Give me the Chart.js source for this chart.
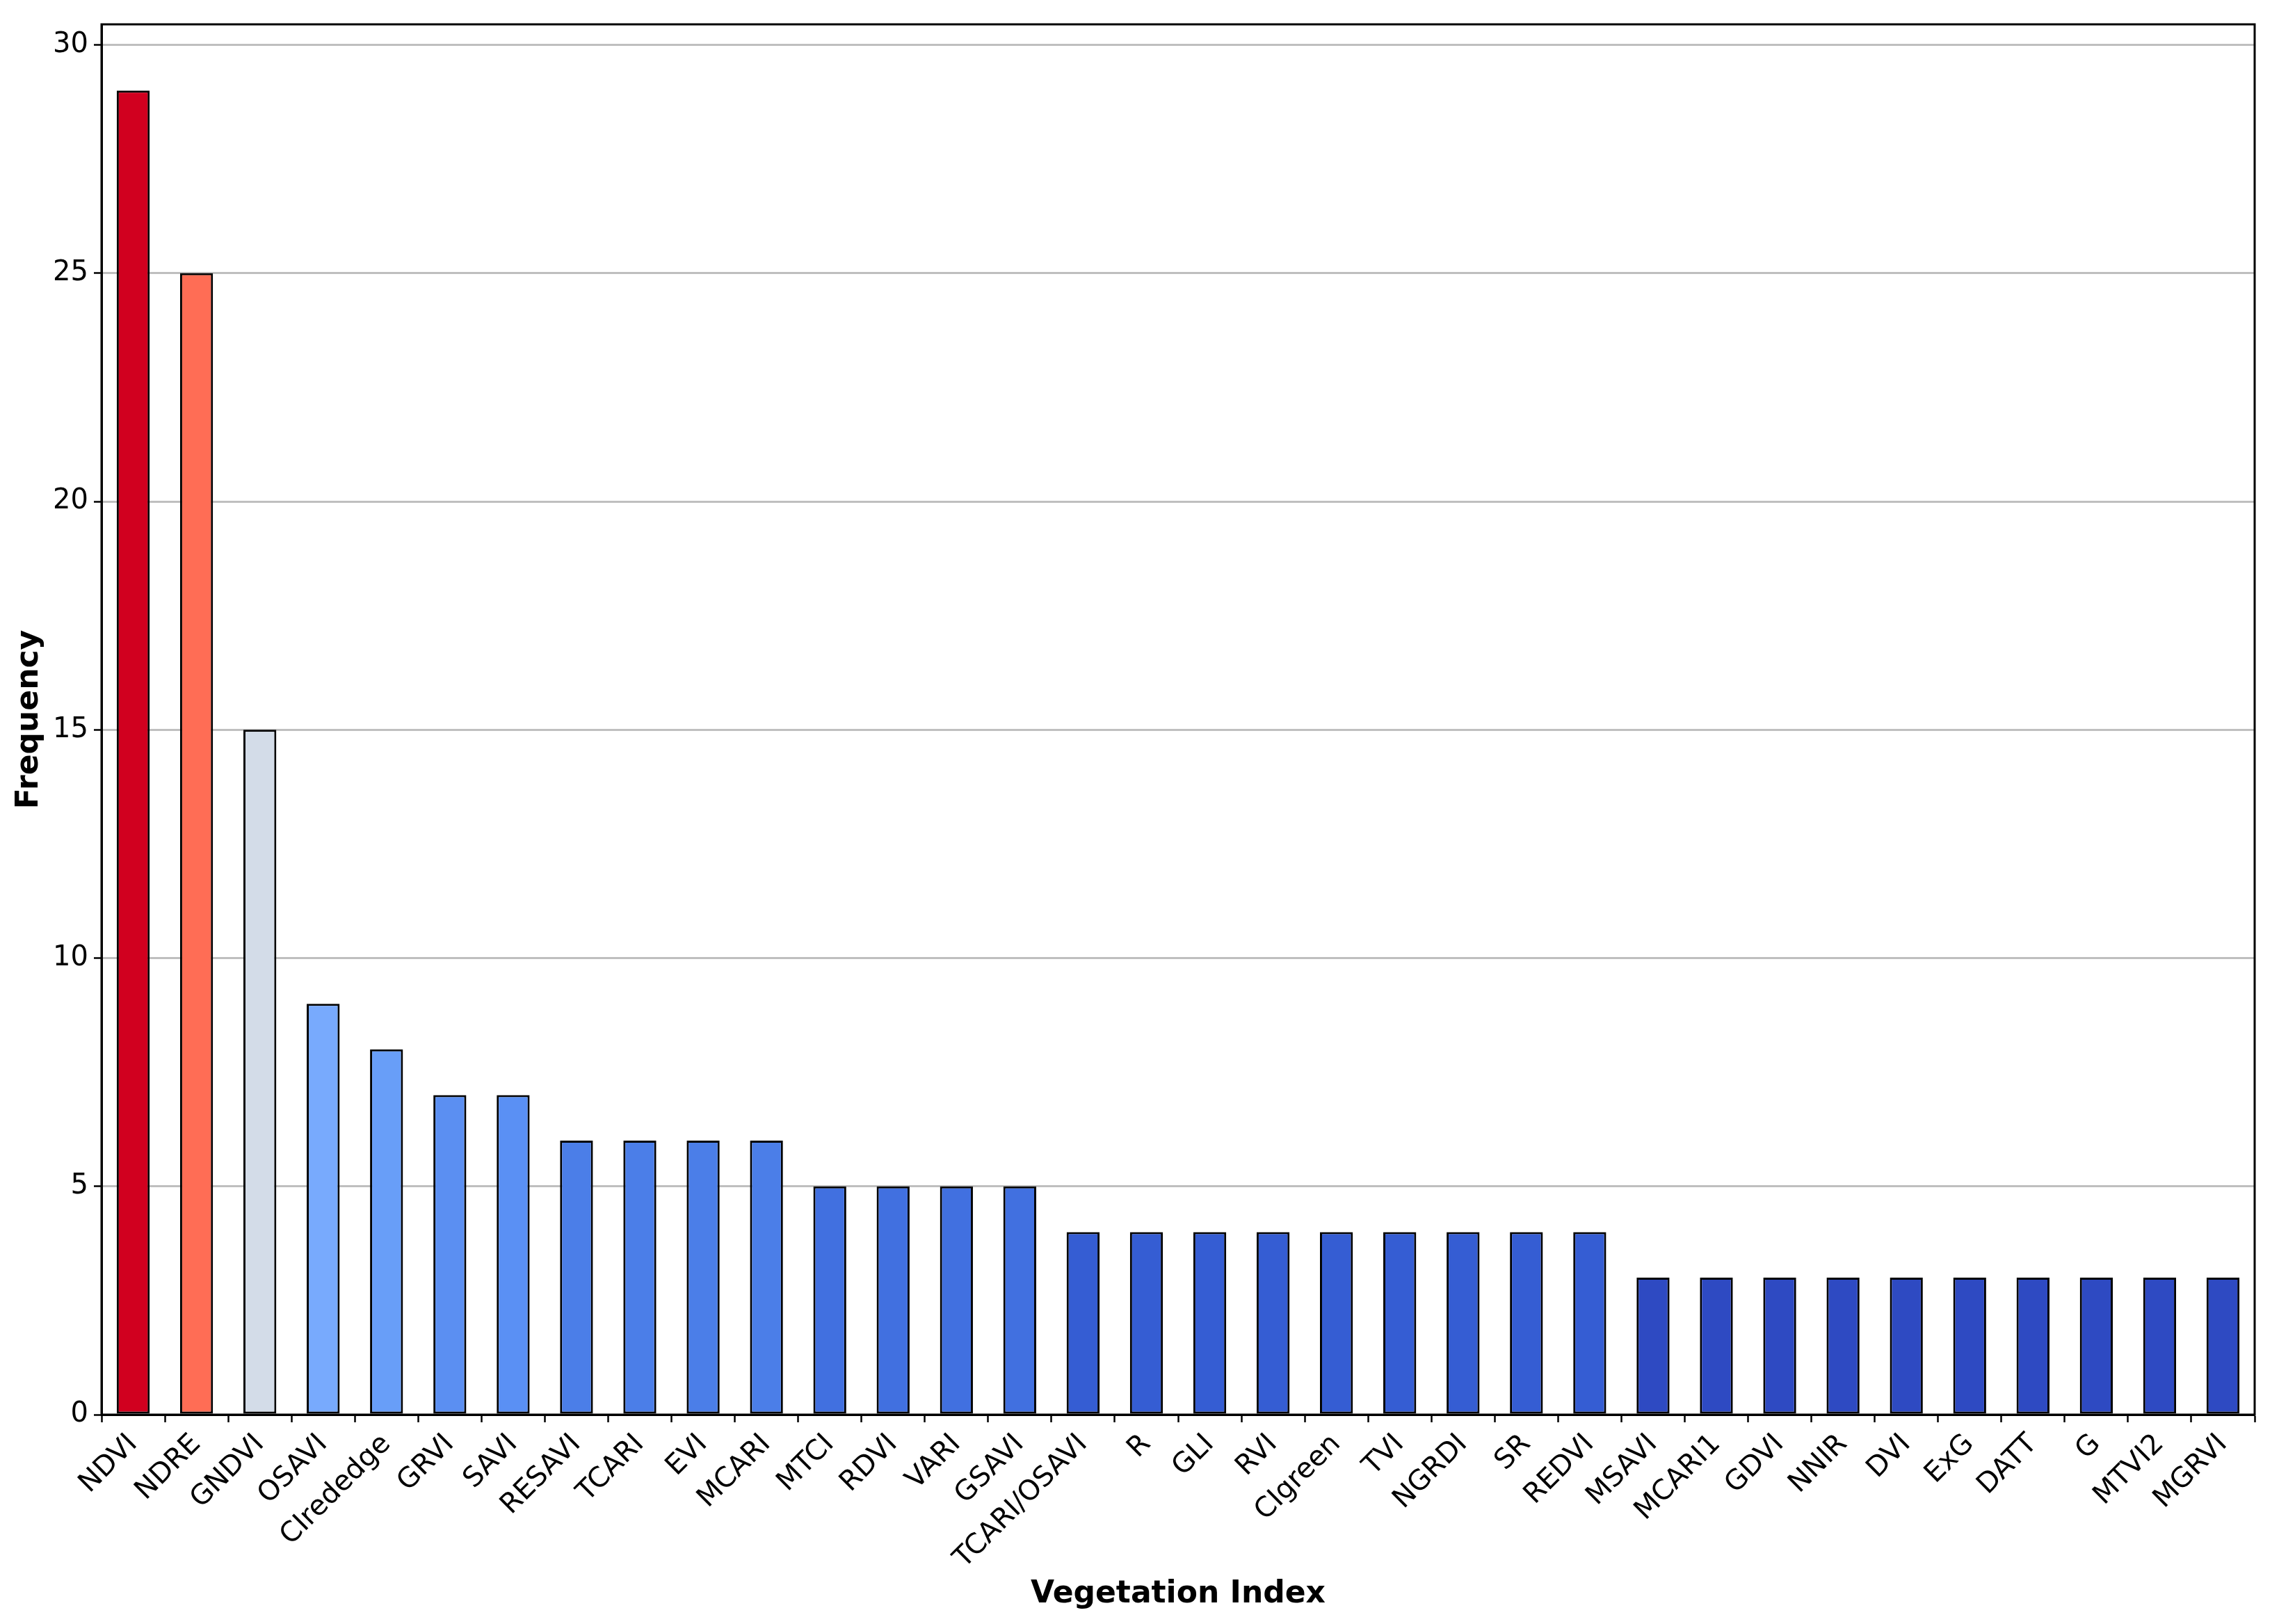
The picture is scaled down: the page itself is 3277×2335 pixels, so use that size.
<!DOCTYPE html>
<html>
<head>
<meta charset="utf-8">
<script src="https://cdn.jsdelivr.net/npm/chart.js@4/dist/chart.umd.min.js"></script>
<style>
  html, body { margin: 0; padding: 0; background: #fff; }
  #wrap { width: 3277px; height: 2335px; }
</style>
</head>
<body>
<div id="wrap"><canvas id="chart" width="3277" height="2335"></canvas></div>
<script>
// vegetation indices and how often each one was used
const indices = ['NDVI', 'NDRE', 'GNDVI', 'OSAVI', 'CIrededge', 'GRVI', 'SAVI', 'RESAVI', 'TCARI', 'EVI',
  'MCARI', 'MTCI', 'RDVI', 'VARI', 'GSAVI', 'TCARI/OSAVI', 'R', 'GLI', 'RVI', 'CIgreen',
  'TVI', 'NGRDI', 'SR', 'REDVI', 'MSAVI', 'MCARI1', 'GDVI', 'NNIR', 'DVI', 'ExG',
  'DATT', 'G', 'MTVI2', 'MGRVI'];
const frequency = [29, 25, 15, 9, 8, 7, 7, 6, 6, 6,
  6, 5, 5, 5, 5, 4, 4, 4, 4, 4,
  4, 4, 4, 4, 3, 3, 3, 3, 3, 3,
  3, 3, 3, 3];
const yTicks = [0, 5, 10, 15, 20, 25, 30];

// coolwarm-like fill per bar
const barColors = ['#d1001f', '#ff6d55', '#d3dce8', '#78aafd', '#689ef8', '#5b8ff2', '#5a90f4',
  '#4b7ee8', '#4b7ee8', '#4b7ee8', '#4b7ee8',
  '#4170e0', '#4170e0', '#4170e0', '#4170e0',
  '#355dd3', '#355dd3', '#355dd3', '#355dd3', '#355dd3', '#355dd3', '#355dd3', '#355dd3', '#355dd3',
  '#2e4ac2', '#2e4ac2', '#2e4ac2', '#2e4ac2', '#2e4ac2', '#2e4ac2', '#2e4ac2', '#2e4ac2', '#2e4ac2', '#2e4ac2'];

const FONT = "'DejaVu Sans', sans-serif";

// matplotlib style box around the plot area
const frameBox = {
  id: 'frameBox',
  afterDraw(chart) {
    const a = chart.chartArea, c = chart.ctx;
    c.save();
    c.strokeStyle = '#000';
    c.lineWidth = 3;
    c.strokeRect(a.left, a.top, a.right - a.left, a.bottom - a.top);
    c.restore();
  }
};

new Chart(document.getElementById('chart'), {
  type: 'bar',
  data: {
    labels: indices,
    datasets: [{
      data: frequency,
      backgroundColor: barColors,
      borderColor: '#000',
      borderWidth: 3,
      borderSkipped: false,
      categoryPercentage: 1,
      barPercentage: 0.52
    }]
  },
  options: {
    responsive: false,
    animation: false,
    devicePixelRatio: 1,
    layout: { padding: { left: 16, right: 35, top: 35, bottom: 4 } },
    plugins: { legend: { display: false }, tooltip: { enabled: false } },
    scales: {
      x: {
        grid: { display: true, drawOnChartArea: false, drawTicks: true, tickLength: 11, tickColor: '#000', tickWidth: 2.5 },
        border: { display: true, color: '#000', width: 3 },
        ticks: {
          color: '#000', font: { family: FONT, size: 40 },
          minRotation: 45, maxRotation: 45, autoSkip: false, padding: 8
        },
        title: {
          display: true, text: 'Vegetation Index', color: '#000',
          font: { family: FONT, size: 44, weight: 'bold' },
          padding: { top: 0, bottom: 12 }
        },
        afterFit(scale) { scale.height = 297; }
      },
      y: {
        min: 0,
        max: 30.45,
        z: 1,
        afterBuildTicks(scale) { scale.ticks = yTicks.map(v => ({ value: v })); },
        grid: { color: 'rgba(175,175,175,0.8)', lineWidth: 3, drawTicks: true, tickLength: 11, tickColor: '#000', tickWidth: 2.5 },
        border: { display: true, color: '#000', width: 3 },
        ticks: { color: '#000', font: { family: FONT, size: 40 }, padding: 8, includeBounds: false },
        title: {
          display: true, text: 'Frequency', color: '#000',
          font: { family: FONT, size: 44, weight: 'bold' },
          padding: { top: 0, bottom: 0 }
        },
        afterFit(scale) { scale.width = 130; }
      }
    }
  },
  plugins: [frameBox]
});
</script>
</body>
</html>
